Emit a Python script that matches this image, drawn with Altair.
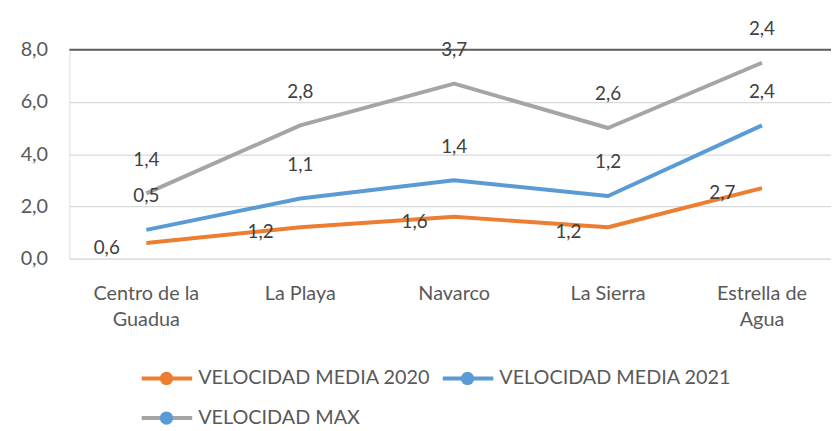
import altair as alt
import pandas as pd

categories = ["Centro de la Guadua", "La Playa", "Navarco", "La Sierra", "Estrella de Agua"]
series = ["VELOCIDAD MEDIA 2020", "VELOCIDAD MEDIA 2021", "VELOCIDAD MAX"]
media_2020 = [0.6, 1.2, 1.6, 1.2, 2.7]
media_2021 = [0.5, 1.1, 1.4, 1.2, 2.4]
vel_max = [1.4, 2.8, 3.7, 2.6, 2.4]
y_ticks = [0, 2, 4, 6, 8]
line_colors = ["#ED7D31", "#5B9BD5", "#A5A5A5"]
marker_colors = ["#ED7D31", "#5B9BD5", "#5B9BD5"]

FONT = "Lato"

# stacked line chart (Excel "line stacked"): cumulative sums
rows = []
running = [0.0] * len(categories)
for s, vals in zip(series, [media_2020, media_2021, vel_max]):
    for i, (c, v) in enumerate(zip(categories, vals)):
        running[i] = round(running[i] + v, 3)
        rows.append({"cat": c, "series": s, "value": v, "cum": running[i]})
df = pd.DataFrame(rows)

W, H = 769, 211

x_enc = alt.X(
    "cat:N",
    sort=categories,
    scale=alt.Scale(type="band", range=[0, 777], paddingInner=0, paddingOuter=0),
    axis=alt.Axis(
        title=None, domain=False, ticks=False, grid=False, labelAngle=0,
        labelFont=FONT, labelFontSize=20, labelColor="#595959",
        labelPadding=25, labelLineHeight=27, labelLimit=300,
        labelExpr="datum.label == 'Centro de la Guadua' ? ['Centro de la', 'Guadua'] : "
                  "datum.label == 'Estrella de Agua' ? ['Estrella de', 'Agua'] : datum.label",
    ),
)
y_enc = alt.Y(
    "cum:Q",
    scale=alt.Scale(domain=[0, 8], nice=False, zero=True),
    axis=alt.Axis(
        title=None, values=y_ticks, domain=False, ticks=False, grid=True,
        gridColor="#D9D9D9", gridWidth=1.3,
        labelFont=FONT, labelFontSize=20, labelColor="#595959", labelPadding=22,
        labelExpr="replace(format(datum.value, '.1f'), '.', ',')",
    ),
)
color_enc = alt.Color("series:N", scale=alt.Scale(domain=series, range=line_colors), legend=None)

base = alt.Chart(df)

lines = base.mark_line(strokeWidth=4, strokeJoin="round").encode(
    x=x_enc, y=y_enc, color=color_enc, detail="series:N"
)

labelled = base.transform_calculate(lab="replace(format(datum.value, '.1f'), '.', ',')")

labels_2020 = labelled.transform_filter(alt.datum.series == series[0]).mark_text(
    font=FONT, fontSize=19, color="#404040", dx=-40, dy=5
).encode(x=alt.X("cat:N", sort=categories), y="cum:Q", text="lab:N")

labels_up = labelled.transform_filter(alt.datum.series != series[0]).mark_text(
    font=FONT, fontSize=19, color="#404040", dy=-34
).encode(x=alt.X("cat:N", sort=categories), y="cum:Q", text="lab:N")

top_rule = alt.Chart(pd.DataFrame({"v": [y_ticks[-1]]})).mark_rule(
    color="#5F5F5F", strokeWidth=2
).encode(y="v:Q", x=alt.value(0), x2=alt.value(W))

# legend (Excel style: line with a round marker)
legend_pos = [(73, 332), (377, 332), (73, 372)]
legend_layers = []
for s, lc, mc, (lx, ly) in zip(series, line_colors, marker_colors, legend_pos):
    d = alt.Chart(pd.DataFrame({"s": [s]}))
    legend_layers.append(
        d.mark_rule(color=lc, strokeWidth=4).encode(
            x=alt.value(lx), x2=alt.value(lx + 51), y=alt.value(ly))
    )
    legend_layers.append(
        d.mark_circle(color=mc, size=180, opacity=1).encode(
            x=alt.value(lx + 25), y=alt.value(ly))
    )
    legend_layers.append(
        d.mark_text(font=FONT, fontSize=20, color="#595959", align="left", baseline="middle").encode(
            x=alt.value(lx + 57), y=alt.value(ly), text="s:N")
    )

chart = alt.layer(lines, top_rule, labels_2020, labels_up, *legend_layers).properties(
    width=W, height=H,
    autosize=alt.AutoSizeParams(type="none"),
    padding={"left": 62, "top": 40, "right": 0, "bottom": 172},
).configure_view(stroke=None).configure(background="white")

chart.save("out.html", embed_options={"renderer": "svg", "actions": False})
